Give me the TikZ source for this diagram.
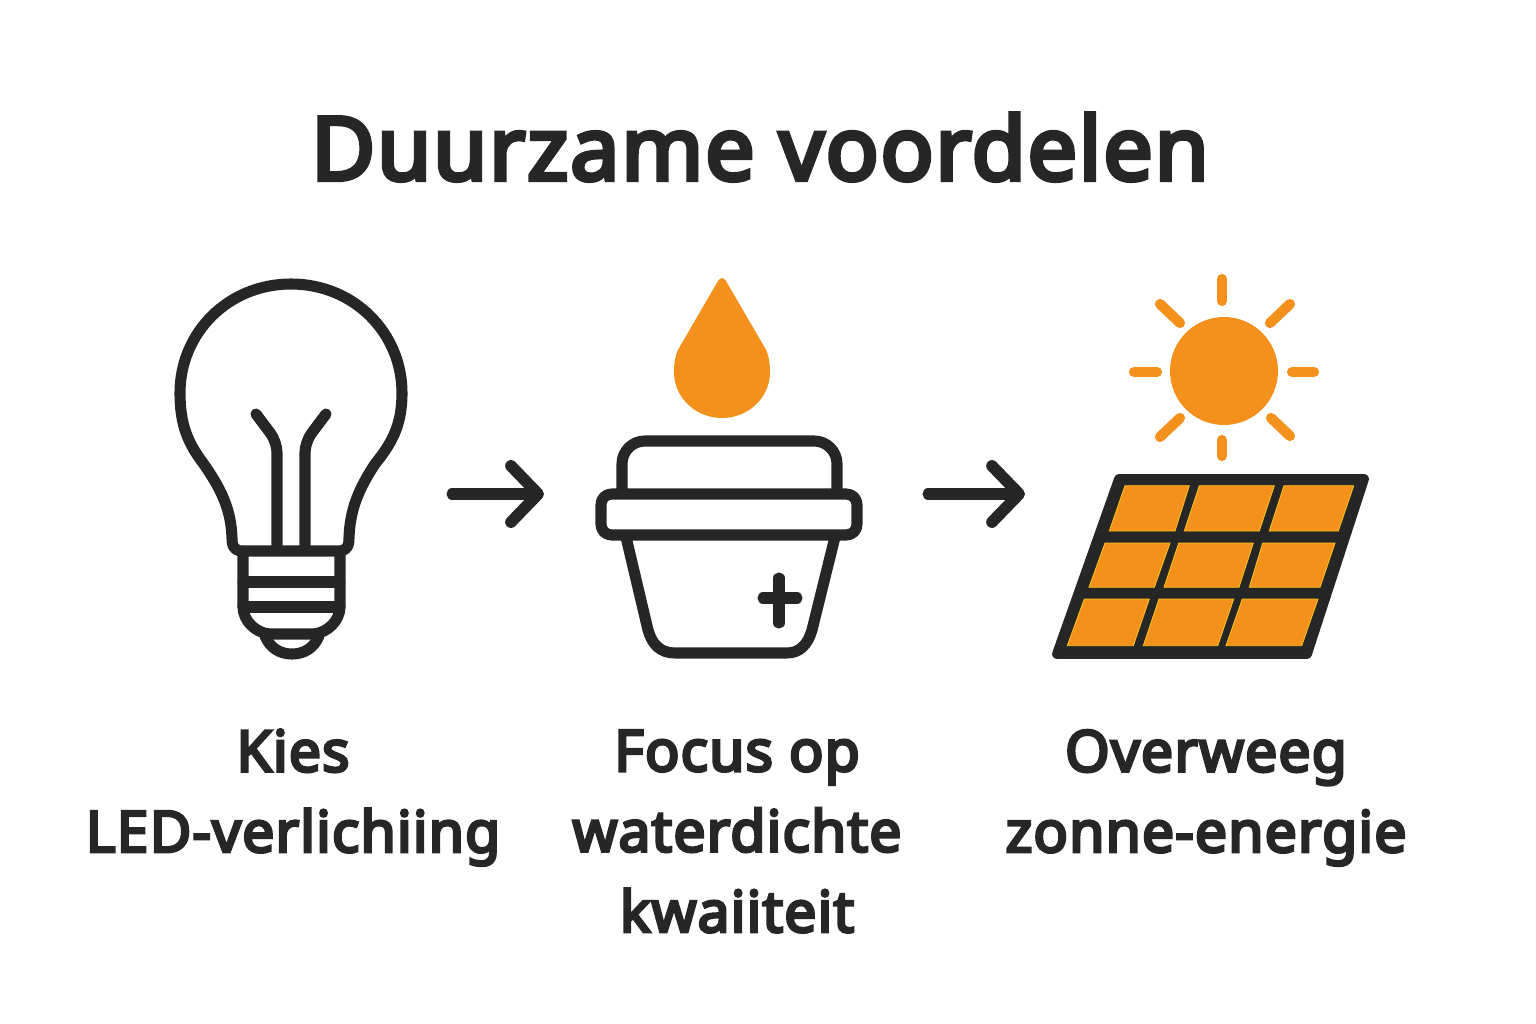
\documentclass[tikz,border=0pt]{standalone}
\usepackage{fontspec}
\setmainfont{Noto Sans}[FakeBold=5,LetterSpace=2]
\usetikzlibrary{arrows.meta}
\definecolor{ink}{HTML}{262626}
\definecolor{sunny}{HTML}{F4911C}
\definecolor{celledge}{HTML}{F7C21B}
\tikzset{
    icon/.style={draw=ink,line width=6.3pt,line join=round,line cap=round},
    ray/.style={draw=sunny,line width=5.8pt,line cap=round},
    flow/.style={draw=ink,line width=6.3pt,line cap=round,line join=round,
        -{Straight Barb[round,length=15.5pt,width=32pt,line width=6.6pt]}},
    solarcell/.style={fill=sunny,draw=celledge,line width=.5pt},
    heading/.style={font=\fontsize{50}{60}\selectfont,text=ink,inner sep=0pt,anchor=base},
    caption/.style={font=\fontsize{32.5}{45.8}\selectfont,text=ink,inner sep=0pt,align=center,anchor=base}
}
\begin{document}
\begin{tikzpicture}[x=.02cm,y=-.02cm]
    \useasboundingbox (0,0) rectangle (1536,1024);
    \node[heading] (title) at (760,180) {Duurzame voordelen};
    % lamp
    \draw[icon] (240,551) .. controls (233,549) and (232,545) .. (232,538)
        .. controls (231,510) and (222,490) .. (203,463)
        .. controls (188,443) and (180,425) .. (180,393)
        .. controls (180,333) and (228,284) .. (291,284)
        .. controls (354,284) and (402,333) .. (402,393)
        .. controls (402,425) and (392,443) .. (375,464)
        .. controls (358,490) and (350,510) .. (349,538)
        .. controls (349,545) and (348,549) .. (341,551) -- cycle;
    \draw[icon,rounded corners=6pt] (256,414)--(277,442)--(277,549);
    \draw[icon,rounded corners=6pt] (326,414)--(305,442)--(305,549);
    \draw[icon] (243,551)--(243,607) .. controls (243,620) and (255,633) .. (270,634)
        --(313,634) .. controls (328,633) and (340,620) .. (340,607)--(340,551);
    \foreach \y in {582,607}
    {
        \draw[icon] (243,\y)--(340,\y);
    }
    \draw[icon] (265,636) .. controls (270,648) and (280,654) .. (292,654)
        .. controls (304,654) and (314,648) .. (319,636);
    % pot
    \fill[sunny] (722,278) .. controls (724,278) and (725,280) .. (726,281)
        -- (765,348) .. controls (769,355) and (770,364) .. (770,372)
        .. controls (770,398) and (748,418) .. (722,418)
        .. controls (696,418) and (674,398) .. (674,372)
        .. controls (674,364) and (675,355) .. (679,348)
        -- (718,281) .. controls (719,280) and (720,278) .. (722,278) -- cycle;
    \draw[icon,rounded corners=13pt] (622,492)--(622,441)--(837,441)--(837,492);
    \draw[icon,rounded corners=6pt] (601,494) rectangle (857,535);
    \draw[icon] (626,537)--(648,630) .. controls (652,644) and (660,653) .. (675,653)
        --(787,653) .. controls (800,653) and (808,644) .. (812,630)--(835,537);
    \draw[icon] (779,578)--(779,623);
    \draw[icon] (763,598)--(797,598);
    % sun and panel
    \fill[sunny] (1224,371) circle (54);
    \foreach \a/\b/\c/\d in {1222/279/1222/301, 1222/440/1222/456,
        1292/372/1314/372, 1134/372/1157/372,
        1160/304/1180/323, 1270/323/1290/304,
        1160/437/1180/418, 1271/418/1290/436}
    {
        \draw[ray] (\a,\b)--(\c,\d);
    }
    \draw[draw=ink,fill=ink,line width=5.6pt,line join=round] (1119,479)--(1364,479)--(1307,654)--(1057,654)--cycle;
    \foreach \tl/\tr/\br/\bl/\yt/\yb in {
        1125/1189.3/1175/1109.3/485.7/531,
        1199.3/1274.3/1259.3/1184.3/485.7/531,
        1284/1353.7/1338.3/1269.3/485.7/531,
        1105/1170/1154.3/1089/543/587.3,
        1178.7/1253.3/1239/1164/543/587.3,
        1262.7/1335/1320/1249.3/543/587.3,
        1084.3/1149.3/1133.3/1067.3/599/645.7,
        1159/1233.7/1217.7/1143.3/599/645.7,
        1242.3/1318/1301.7/1226/599/645.7}
    {
        \draw[solarcell] (\tl,\yt)--(\tr,\yt)--(\br,\yb)--(\bl,\yb)--cycle;
    }
    % arrows
    \coordinate (lampout) at (452,494);
    \coordinate (potin) at (544,494);
    \coordinate (potout) at (928,494);
    \coordinate (panelin) at (1025,494);
    \draw[flow] (lampout)--(potin);
    \draw[flow] (potout)--(panelin);
    % captions
    \node[caption] (lamptext) at (293,852) {Kies\\LED-verlichiing};
    \node[caption] (pottext) at (737,932) {Focus op\\waterdichte\\kwaiiteit};
    \node[caption] (paneltext) at (1206,852) {Overweeg\\zonne-energie};
\end{tikzpicture}
\end{document}
